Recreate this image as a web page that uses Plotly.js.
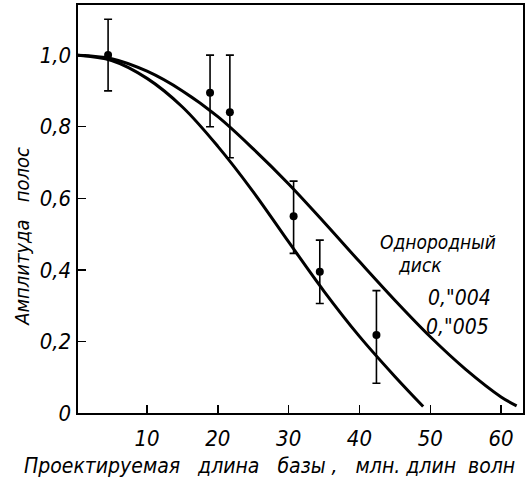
<!DOCTYPE html>
<html>
<head>
<meta charset="utf-8">
<script src="https://cdn.plot.ly/plotly-3.0.1.min.js"></script>
<style>html,body{margin:0;padding:0;background:#fff;}#chart{width:530px;height:493px;}</style>
</head>
<body>
<div id="chart"></div>
<script>
// Theoretical curves (uniform disk)
const curveA_x = [0, 5, 10, 15, 20, 25, 30, 35, 40, 45, 49];
const curveA_y = [1.0, 0.985, 0.935, 0.855, 0.745, 0.618, 0.478, 0.34, 0.214, 0.102, 0.018];
const curveB_x = [0, 5, 10, 15, 20, 25, 30, 35, 40, 45, 50, 55, 60, 62.2];
const curveB_y = [1.0, 0.99, 0.955, 0.90, 0.828, 0.738, 0.64, 0.533, 0.423, 0.315, 0.213, 0.122, 0.045, 0.02];
// Measurements
const obs_x = [4.5, 18.9, 21.7, 30.7, 34.4, 42.4];
const obs_y = [1.0, 0.895, 0.84, 0.55, 0.395, 0.218];
const err_plus = [0.10, 0.105, 0.16, 0.098, 0.088, 0.124];
const err_minus = [0.10, 0.095, 0.127, 0.104, 0.089, 0.135];
// Ticks
const xTickVals = [10, 20, 30, 40, 50, 60];
const xTickText = ["10", "20", "30", "40", "50", "60"];
const yTickVals = [0, 0.2, 0.4, 0.6, 0.8, 1.0];
const yTickText = ["0", "0,2", "0,4", "0,6", "0,8", "1,0"];

const FONT = '"DejaVu Sans Condensed", "DejaVu Sans", sans-serif';
const f = (s) => ({family: FONT, size: s, color: '#000', style: 'italic'});

const traces = [
  {x: curveA_x, y: curveA_y, mode: 'lines', line: {color: '#000', width: 3, shape: 'spline', smoothing: 1}, hoverinfo: 'skip'},
  {x: curveB_x, y: curveB_y, mode: 'lines', line: {color: '#000', width: 3, shape: 'spline', smoothing: 1}, hoverinfo: 'skip'},
  {x: obs_x, y: obs_y, mode: 'markers', marker: {color: '#000', size: 8},
   error_y: {type: 'data', symmetric: false, array: err_plus, arrayminus: err_minus, color: '#000', thickness: 1.6, width: 4}}
];

const layout = {
  width: 530, height: 493,
  margin: {l: 78, r: 7, t: 5, b: 80},
  showlegend: false,
  paper_bgcolor: '#fff', plot_bgcolor: '#fff',
  xaxis: {range: [0.25, 63.1], showgrid: false, zeroline: false, showline: true, linecolor: '#000', linewidth: 2.4, mirror: true,
          ticks: 'inside', ticklen: 8, tickwidth: 1.5, tickcolor: '#000', tickvals: xTickVals, ticktext: xTickText, tickfont: f(22),
          ticklabelstandoff: 4},
  yaxis: {range: [0, 1.14], showgrid: false, zeroline: false, showline: true, linecolor: '#000', linewidth: 2.4, mirror: true,
          ticks: 'inside', ticklen: 8, tickwidth: 1.5, tickcolor: '#000', tickvals: yTickVals, ticktext: yTickText, tickfont: f(22)},
  annotations: [
    {xref: 'paper', yref: 'paper', x: 0.431, y: -0.13, text: 'Проектируемая\u00a0\u00a0\u00a0длина\u00a0\u00a0\u00a0базы\u00a0,\u00a0\u00a0\u00a0млн.\u00a0длин\u00a0\u00a0волн', showarrow: false, font: f(21), xanchor: 'center', yanchor: 'middle'},
    {xref: 'paper', yref: 'paper', x: -0.126, y: 0.434, text: 'Амплитуда\u00a0\u00a0\u00a0полос', textangle: -90, showarrow: false, font: f(20), xanchor: 'center', yanchor: 'middle'},
    {xref: 'x', yref: 'y', x: 51.1, y: 0.478, text: 'Однородный', showarrow: false, font: f(19)},
    {xref: 'x', yref: 'y', x: 48.6, y: 0.413, text: 'диск', showarrow: false, font: f(19)},
    {xref: 'x', yref: 'y', x: 54.2, y: 0.321, text: '0,"004', showarrow: false, font: f(21)},
    {xref: 'x', yref: 'y', x: 53.9, y: 0.240, text: '0,"005', showarrow: false, font: f(21)}
  ]
};

Plotly.newPlot('chart', traces, layout, {displayModeBar: false, staticPlot: true});
</script>
</body>
</html>
